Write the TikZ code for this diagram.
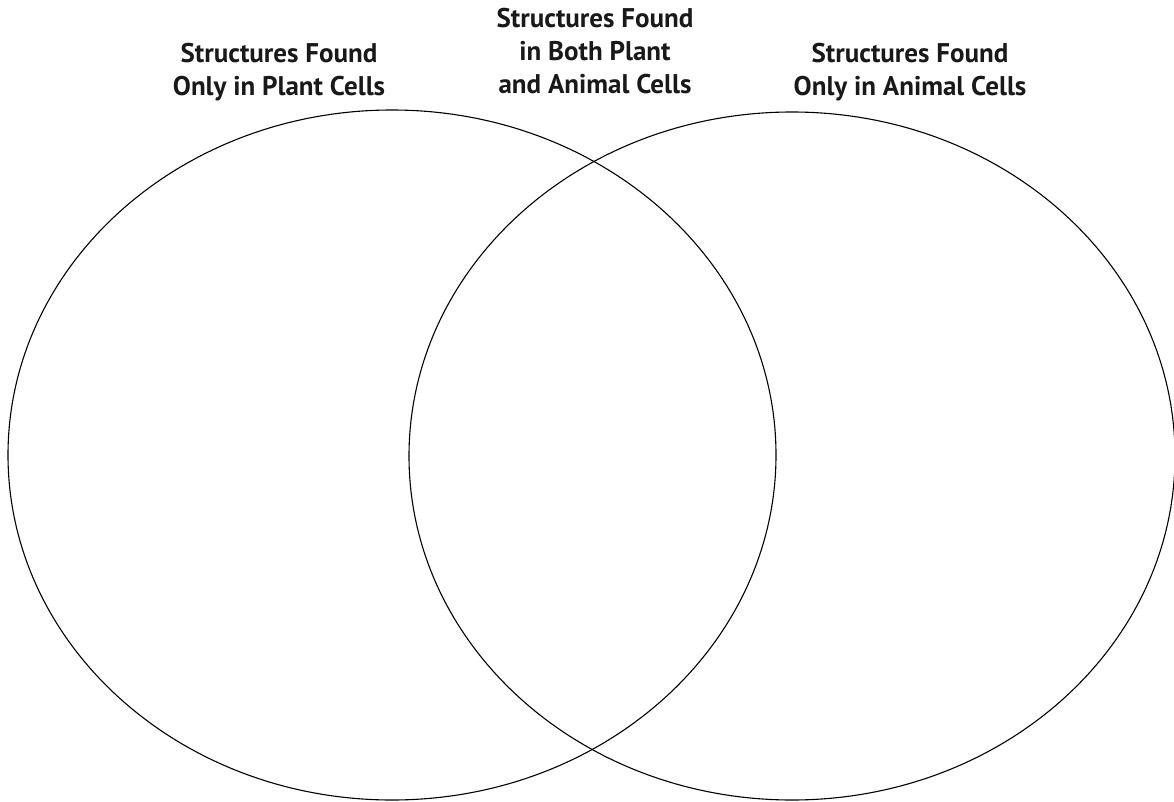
\documentclass[tikz,border=0pt]{standalone}
\usepackage{fontspec}
\setmainfont{PT Sans}
\begin{document}
\begin{tikzpicture}[x=1pt,y=-1pt,
  venn/.style={draw=black,line width=1.1pt},
  lbl/.style={align=center,font=\fontsize{27}{33}\selectfont\bfseries,text=black!90,inner sep=0pt}]
\useasboundingbox (0,0) rectangle (1174,802);
\draw[venn] (392,455) ellipse [x radius=384, y radius=345];
\draw[venn] (792,456) ellipse [x radius=383, y radius=344];
\node (lt) [lbl] at (279,72) {Structures Found\\Only in Plant Cells};
\node (mt) [lbl] at (595,51) {Structures Found\\in Both Plant\\and Animal Cells};
\node (rt) [lbl] at (910,72) {Structures Found\\Only in Animal Cells};
\end{tikzpicture}
\end{document}
